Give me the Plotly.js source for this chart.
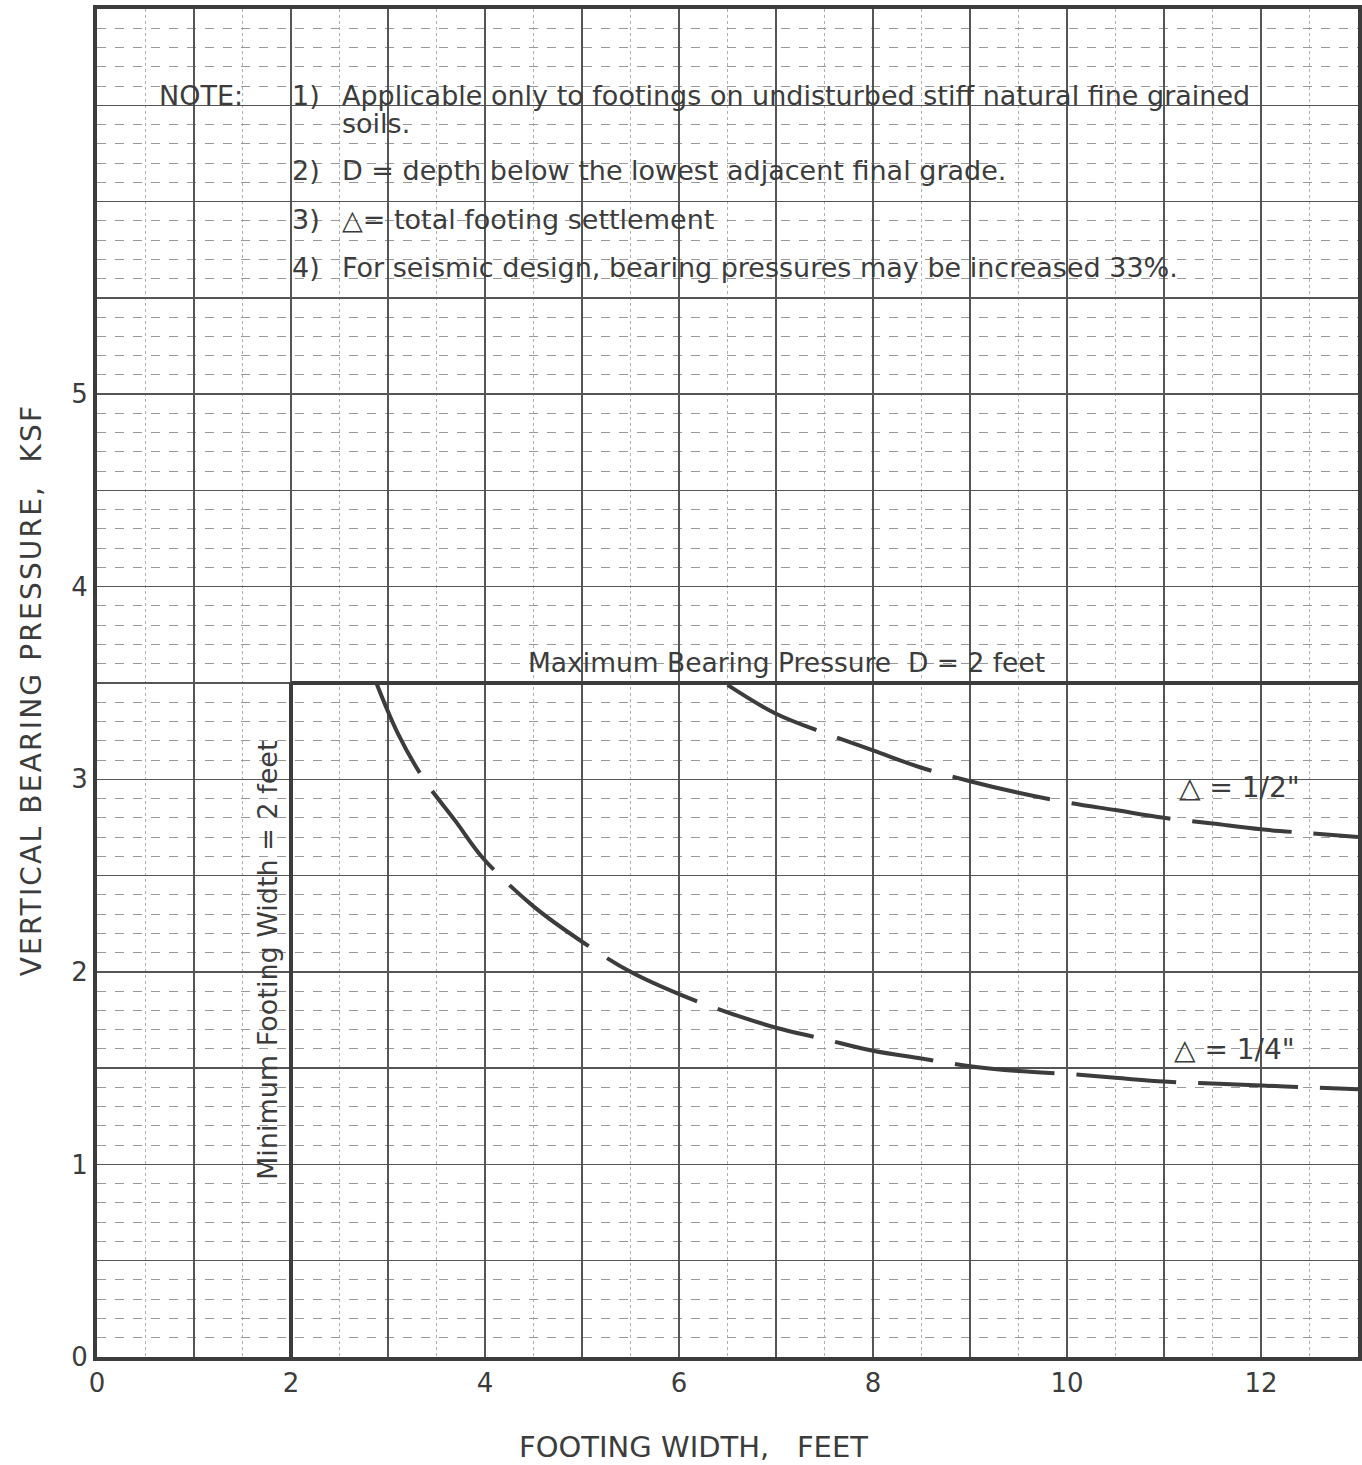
<!DOCTYPE html>
<html>
<head>
<meta charset="utf-8">
<script src="https://cdn.plot.ly/plotly-3.0.1.min.js"></script>
<style>html,body{margin:0;padding:0;background:#fff;}#chart{width:1362px;height:1465px;}</style>
</head>
<body>
<div id="chart"></div>
<script>
// ---- data ----
const quarterInchX = [2.88, 3.1, 3.37, 3.7, 3.98, 4.5, 5.02, 5.5, 6.02, 6.5, 7.0, 7.5, 8.0, 8.5, 9.0, 9.5, 10.0, 10.5, 11.0, 11.5, 12.0, 12.5, 13.0];
const quarterInchY = [3.50, 3.24, 3.00, 2.78, 2.59, 2.34, 2.15, 2.00, 1.88, 1.79, 1.71, 1.65, 1.59, 1.55, 1.51, 1.485, 1.47, 1.45, 1.43, 1.42, 1.41, 1.40, 1.39];
const halfInchX = [6.5, 7.0, 7.5, 8.0, 8.5, 9.0, 9.5, 10.0, 10.5, 11.0, 11.5, 12.0, 12.5, 13.0];
const halfInchY = [3.49, 3.34, 3.24, 3.15, 3.06, 2.99, 2.93, 2.88, 2.84, 2.80, 2.77, 2.74, 2.72, 2.70];
const maxPressureX = [2, 13];
const maxPressureY = [3.5, 3.5];
const minWidthX = [2, 2];
const minWidthY = [0, 3.5];

const xTickVals = [0,1,2,3,4,5,6,7,8,9,10,11,12,13];
const xTickText = ['0','','2','','4','','6','','8','','10','','12',''];
const yTickVals = [0,0.5,1,1.5,2,2.5,3,3.5,4,4.5,5,5.5,6,6.5,7];
const yTickText = ['0','','1','','2','','3','','4','','5','','','',''];

const noteNums = ['1)', '2)', '3)', '4)'];
const noteTexts = [
  'Applicable only to footings on undisturbed stiff natural fine grained',
  'D = depth below the lowest adjacent final grade.',
  '\u25B3= total footing settlement',
  'For seismic design, bearing pressures may be increased 33%.'
];
const noteContinuation = 'soils.';
const noteHeader = 'NOTE:';
const curveLabels = ['\u25B3 = 1/4"', '\u25B3 = 1/2"'];
const maxPressureLabel = 'Maximum Bearing Pressure  D = 2 feet';
const minWidthLabel = 'Minimum Footing Width = 2 feet';
const xTitle = 'FOOTING WIDTH,   FEET';
const yTitle = 'VERTICAL BEARING PRESSURE,  KSF';

// ---- styling ----
const ink = '#3c3c3c';
const FONT = 'DejaVu Sans, sans-serif';

const traces = [
  {x: maxPressureX, y: maxPressureY, mode: 'lines', line: {color: ink, width: 4}, hoverinfo: 'skip'},
  {x: minWidthX, y: minWidthY, mode: 'lines', line: {color: ink, width: 4}, hoverinfo: 'skip'},
  {x: quarterInchX, y: quarterInchY, mode: 'lines', line: {color: ink, width: 4, shape: 'spline', dash: '100px,22px'}},
  {x: halfInchX, y: halfInchY, mode: 'lines', line: {color: ink, width: 4, shape: 'spline', dash: '100px,22px'}}
];

const noteY = [6.549, 6.159, 5.909, 5.66];
const nf = {family: FONT, size: 27, color: ink};
const annotations = [];
annotations.push({x: 0.62, y: 6.549, xref: 'x', yref: 'y', text: noteHeader, showarrow: false, xanchor: 'left', yanchor: 'middle', font: nf});
noteNums.forEach((n, i) => {
  annotations.push({x: 1.99, y: noteY[i], xref: 'x', yref: 'y', text: n, showarrow: false, xanchor: 'left', yanchor: 'middle', font: nf});
  annotations.push({x: 2.5, y: noteY[i], xref: 'x', yref: 'y', text: noteTexts[i], showarrow: false, xanchor: 'left', yanchor: 'middle', font: nf});
});
annotations.push({x: 2.5, y: 6.403, xref: 'x', yref: 'y', text: noteContinuation, showarrow: false, xanchor: 'left', yanchor: 'middle', font: nf});
annotations.push({x: 4.42, y: 3.607, xref: 'x', yref: 'y', text: maxPressureLabel, showarrow: false, xanchor: 'left', yanchor: 'middle', font: {family: FONT, size: 26.5, color: ink}});
annotations.push({x: 1.76, y: 2.06, xref: 'x', yref: 'y', text: minWidthLabel, showarrow: false, textangle: -90, xanchor: 'center', yanchor: 'middle', font: nf});
annotations.push({x: 11.08, y: 1.596, xref: 'x', yref: 'y', text: curveLabels[0], showarrow: false, xanchor: 'left', yanchor: 'middle', font: {family: FONT, size: 28, color: ink}});
annotations.push({x: 11.13, y: 2.957, xref: 'x', yref: 'y', text: curveLabels[1], showarrow: false, xanchor: 'left', yanchor: 'middle', font: {family: FONT, size: 28, color: ink}});
annotations.push({x: 0.473, y: -0.0668, xref: 'paper', yref: 'paper', text: xTitle, showarrow: false, xanchor: 'center', yanchor: 'middle', font: {family: FONT, size: 29, color: ink}});
annotations.push({x: -0.052, y: 0.495, xref: 'paper', yref: 'paper', text: yTitle, showarrow: false, textangle: -90, xanchor: 'center', yanchor: 'middle', font: {family: FONT, size: 28, color: ink}});

const layout = {
  width: 1362, height: 1465,
  margin: {l: 97, r: 4, t: 9, b: 108},
  paper_bgcolor: '#ffffff', plot_bgcolor: '#ffffff',
  showlegend: false,
  xaxis: {
    range: [0, 13], tickmode: 'array', tickvals: xTickVals, ticktext: xTickText,
    showgrid: true, gridcolor: '#555', gridwidth: 1.5,
    minor: {dtick: 0.5, showgrid: true, gridcolor: '#b0b0b0', gridwidth: 1, griddash: 'dot'},
    showline: true, mirror: true, linecolor: ink, linewidth: 4,
    zeroline: false, ticks: '', ticklabelstandoff: 0,
    tickfont: {family: FONT, size: 26, color: ink}
  },
  yaxis: {
    range: [0, 7.0], tickmode: 'array', tickvals: yTickVals, ticktext: yTickText,
    showgrid: true, gridcolor: '#555', gridwidth: 1.5,
    minor: {dtick: 0.1, showgrid: true, gridcolor: '#999', gridwidth: 1, griddash: 'dash'},
    showline: true, mirror: true, linecolor: ink, linewidth: 4,
    zeroline: false, ticks: '', ticklabelstandoff: 0,
    tickfont: {family: FONT, size: 26, color: ink}
  },
  annotations: annotations
};

Plotly.newPlot('chart', traces, layout, {displayModeBar: false, staticPlot: true}).then(gd => {
  // widen letter spacing of the y-axis title to match the wide original typeface
  gd.querySelectorAll('.annotation-text').forEach(t => {
    if (t.textContent === yTitle) t.style.letterSpacing = '2.2px';
  });
});
</script>
</body>
</html>
